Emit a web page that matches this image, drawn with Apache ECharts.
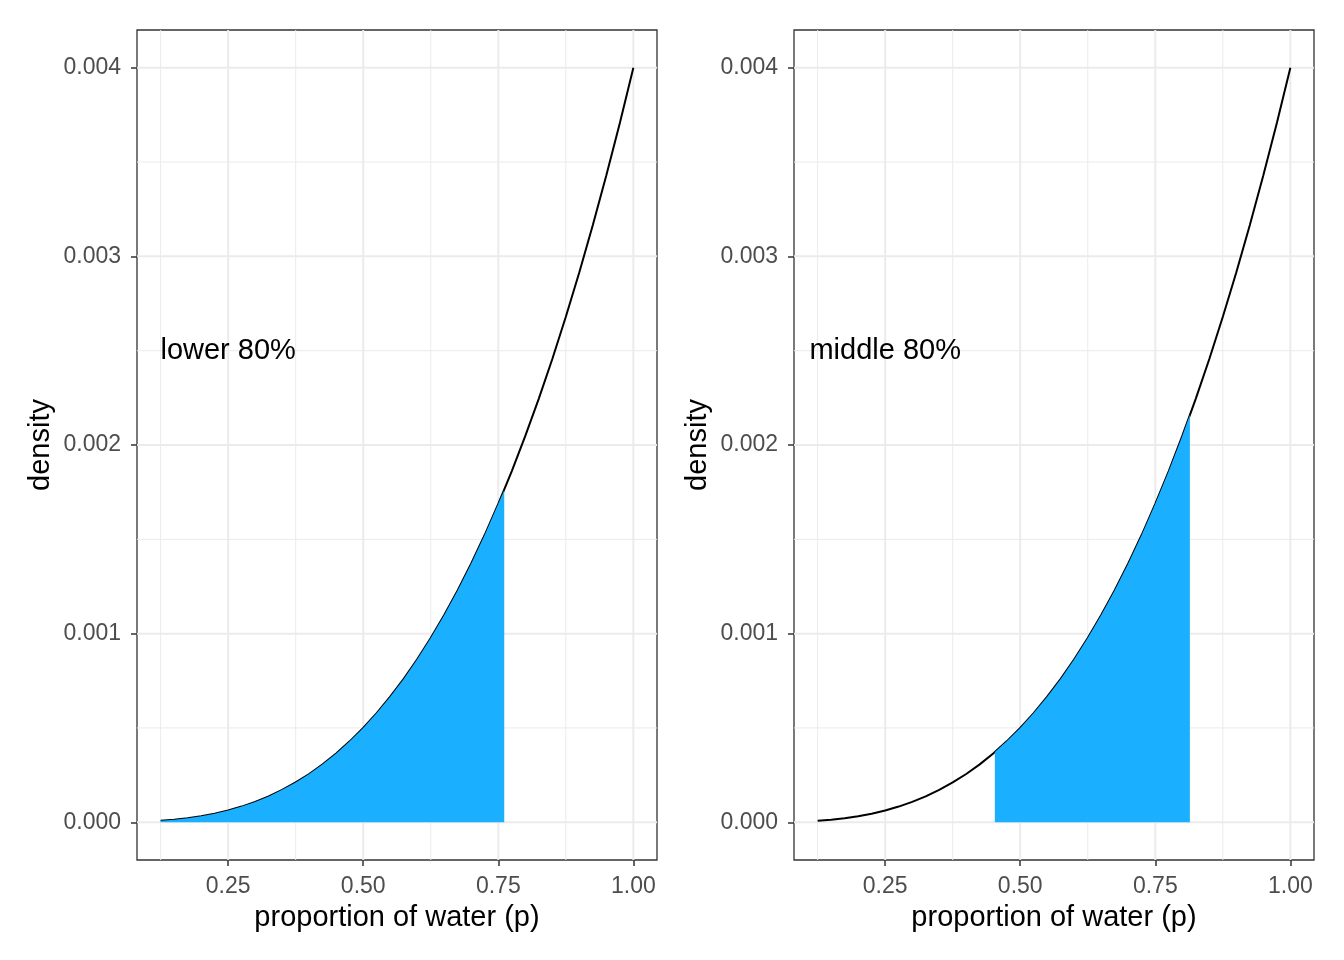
<!DOCTYPE html>
<html>
<head>
<meta charset="utf-8">
<script src="https://cdn.jsdelivr.net/npm/echarts@6/dist/echarts.min.js"></script>
<style>
  html, body { margin: 0; padding: 0; background: #fff; }
  #chart { width: 1344px; height: 960px; }
</style>
</head>
<body>
<div id="chart"></div>
<script>
// posterior curve
var pGrid = [0.125, 0.15, 0.175, 0.2, 0.225, 0.25, 0.275, 0.3, 0.325, 0.35, 0.375, 0.4,
             0.425, 0.45, 0.475, 0.5, 0.525, 0.55, 0.575, 0.6, 0.625, 0.65, 0.675, 0.7,
             0.725, 0.75, 0.775, 0.8, 0.825, 0.85, 0.875, 0.9, 0.925, 0.95, 0.975, 1.0];
var density = [0.0000078, 0.0000135, 0.0000214, 0.000032, 0.0000456, 0.0000625, 0.0000832,
               0.000108, 0.000137, 0.000172, 0.000211, 0.000256, 0.000307, 0.000365,
               0.000429, 0.0005, 0.000579, 0.000666, 0.00076, 0.000864, 0.000977, 0.001099,
               0.00123, 0.001372, 0.001524, 0.001688, 0.001862, 0.002048, 0.002246,
               0.002456, 0.00268, 0.002916, 0.003166, 0.00343, 0.003707, 0.004];

// shaded intervals: [from, to] and curve height at those edges
var lowerBounds = [0.125, 0.761];
var lowerEdgeDensity = [0.0000078, 0.00176];
var middleBounds = [0.453, 0.814];
var middleEdgeDensity = [0.000372, 0.00216];

var panelLabels = ['lower 80%', 'middle 80%'];
var labelPos = [0.25, 0.0025];

// axis ticks and grid lines
var xTicks = [0.25, 0.5, 0.75, 1.0];
var xMinor = [0.125, 0.375, 0.625, 0.875];
var yTicks = [0, 0.001, 0.002, 0.003, 0.004];
var yMinor = [0.0005, 0.0015, 0.0025, 0.0035];

var xRange = [0.08125, 1.04375];
var yRange = [-0.0002, 0.0042];

var FONT = '"Liberation Sans", Arial, Helvetica, sans-serif';

function curveData() {
    return pGrid.map(function(p, i) { return [p, density[i]]; });
}

function fillData(bounds, edges) {
    var pts = [[bounds[0], edges[0]]];
    pGrid.forEach(function(p, i) {
        if (p > bounds[0] && p < bounds[1]) pts.push([p, density[i]]);
    });
    pts.push([bounds[1], edges[1]]);
    return pts;
}

// one thin line series per grid line, so it sits under the marks
function gridSeries(i) {
    var out = [];
    function add(pts, w) {
        out.push({
            type: 'line', xAxisIndex: i, yAxisIndex: i, data: pts, z: 1, silent: true,
            showSymbol: false, lineStyle: { color: '#EBEBEB', width: w }
        });
    }
    xMinor.forEach(function(v) { add([[v, yRange[0]], [v, yRange[1]]], 1); });
    yMinor.forEach(function(v) { add([[xRange[0], v], [xRange[1], v]], 1); });
    xTicks.forEach(function(v) { add([[v, yRange[0]], [v, yRange[1]]], 2); });
    yTicks.forEach(function(v) { add([[xRange[0], v], [xRange[1], v]], 2); });
    return out;
}

var grids = [
    { left: 137, right: 687, top: 30, bottom: 100 },
    { left: 794, right: 30, top: 30, bottom: 100 }
];

var xAxes = [], yAxes = [], series = [];
var fills = [fillData(lowerBounds, lowerEdgeDensity), fillData(middleBounds, middleEdgeDensity)];

grids.forEach(function(g, i) {
    g.show = true;
    g.borderColor = '#333333';
    g.borderWidth = 1.3;
    g.backgroundColor = '#fff';

    xAxes.push({
        type: 'value', gridIndex: i, min: xRange[0], max: xRange[1],
        name: 'proportion of water (p)', nameLocation: 'middle', nameGap: 43,
        nameTextStyle: { fontSize: 29, color: '#000', fontFamily: FONT },
        axisLine: { show: false, onZero: false },
        splitLine: { show: false },
        axisTick: { show: true, customValues: xTicks, length: 6, lineStyle: { color: '#333333', width: 1.5 } },
        axisLabel: {
            customValues: xTicks, margin: 15, fontSize: 23, color: '#4D4D4D', fontFamily: FONT,
            formatter: function(v) { return v.toFixed(2); }
        }
    });
    yAxes.push({
        type: 'value', gridIndex: i, min: yRange[0], max: yRange[1],
        name: 'density', nameLocation: 'middle', nameGap: 82,
        nameTextStyle: { fontSize: 29, color: '#000', fontFamily: FONT },
        axisLine: { show: false, onZero: false },
        splitLine: { show: false },
        axisTick: { show: true, customValues: yTicks, length: 6, lineStyle: { color: '#333333', width: 1.5 } },
        axisLabel: {
            customValues: yTicks, margin: 16, fontSize: 23, color: '#4D4D4D', fontFamily: FONT,
            formatter: function(v) { return v.toFixed(3); }
        }
    });

    series = series.concat(gridSeries(i));
    // posterior curve
    series.push({
        type: 'line', xAxisIndex: i, yAxisIndex: i, data: curveData(), z: 2,
        showSymbol: false, smooth: false,
        lineStyle: { color: '#000', width: 2 }
    });
    // shaded interval drawn over the curve
    series.push({
        type: 'line', xAxisIndex: i, yAxisIndex: i, data: fills[i], z: 3,
        showSymbol: false, smooth: false,
        lineStyle: { width: 0 },
        areaStyle: { color: '#1AB0FF', opacity: 1, origin: 'auto' }
    });
    // panel label
    series.push({
        type: 'scatter', xAxisIndex: i, yAxisIndex: i, z: 4, symbolSize: 1, silent: true,
        itemStyle: { color: '#fff', opacity: 1 },
        data: [{ value: labelPos, name: panelLabels[i] }],
        label: {
            show: true, position: 'inside', formatter: '{b}',
            fontSize: 29, color: '#000', opacity: 1, textBorderWidth: 0, fontFamily: FONT
        }
    });
});

var chart = echarts.init(document.getElementById('chart'));
chart.setOption({
    animation: false,
    backgroundColor: '#fff',
    grid: grids,
    xAxis: xAxes,
    yAxis: yAxes,
    series: series
});
</script>
</body>
</html>
